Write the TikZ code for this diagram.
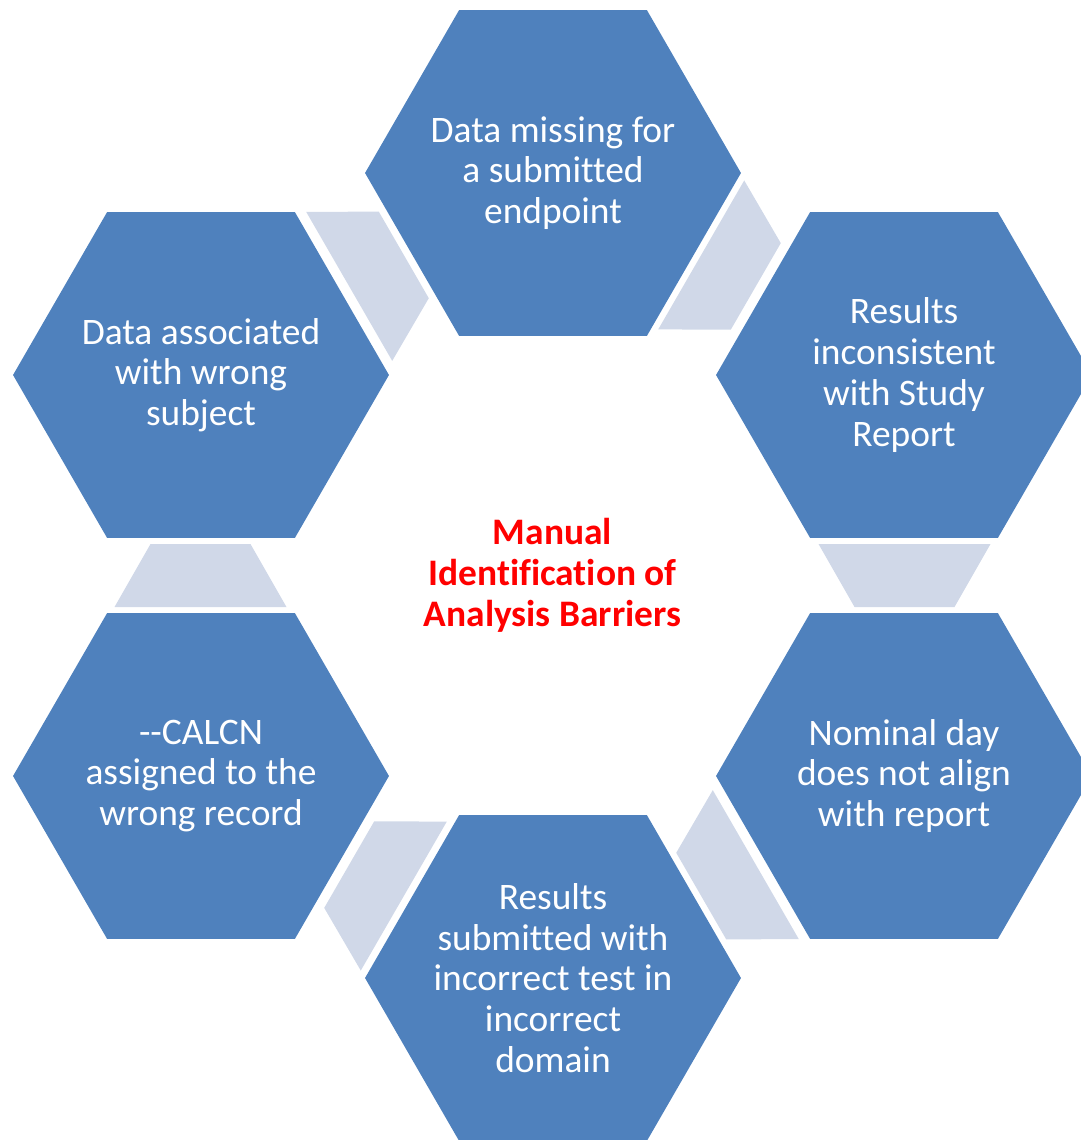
\documentclass[tikz,border=0pt]{standalone}
\usepackage{fontspec}
\setmainfont{Carlito}[Ligatures={NoCommon}]
\usepackage{tikz}
\usetikzlibrary{shapes.geometric}
\definecolor{hxBlue}{RGB}{79, 129, 189}
\definecolor{hxGray}{RGB}{208, 216, 232}
\definecolor{hxRed}{RGB}{255, 0, 0}
\tikzset{
    hexcell/.style={
        regular polygon,
        regular polygon sides=6,
        minimum size=7.52cm,
        inner sep=0pt,
        outer sep=0pt,
        fill=hxBlue,
        draw=none
    },
    hextext/.style={
        font=\fontsize{21.3}{23.2}\selectfont,
        text=white,
        align=center,
        inner sep=0pt
    },
    title/.style={
        font=\fontsize{21.3}{23.2}\selectfont\bfseries,
        text=hxRed,
        align=center,
        inner sep=0pt
    },
    link/.style={
        fill=hxGray,
        draw=none
    }
}

\begin{document}
\begin{tikzpicture}[x=0.02cm, y=-0.02cm]
    \useasboundingbox (0,0) rectangle (1081,1140);

    % Ring centre
    \coordinate (ring) at (552.5,575.5);

    % Gray links between the cells
    \foreach \a in {0,60,...,300} {
        \begin{scope}[shift={(ring)}, rotate=\a]
            \fill[link] (266,-31.5) -- (438,-31.5) -- (402,31.5) -- (302,31.5) -- cycle;
        \end{scope}
    }

    % Cells
    \node[hexcell] (top) at (553,173) {};
    \node[hexcell] (upright) at (904,375) {};
    \node[hexcell] (lowright) at (904,776) {};
    \node[hexcell] (bottom) at (553,978) {};
    \node[hexcell] (lowleft) at (201,776) {};
    \node[hexcell] (upleft) at (201,375) {};

    % Cell texts
    \node[hextext] (topT) at (top) {Data missing for\\a submitted\\endpoint};
    \node[hextext] (uprightT) at (upright) {Results\\inconsistent\\with Study\\Report};
    \node[hextext] (lowrightT) at (lowright) {Nominal day\\does not align\\with report};
    \node[hextext] (bottomT) at (bottom) {Results\\submitted with\\incorrect test in\\incorrect\\domain};
    \node[hextext] (lowleftT) at (lowleft) {-\kern0pt-CALCN\\assigned to the\\wrong record};
    \node[hextext] (upleftT) at (upleft) {Data associated\\with wrong\\subject};

    % Centre title
    \node[title] (centre) at (ring) {Manual\\Identification of\\Analysis Barriers};
\end{tikzpicture}
\end{document}
